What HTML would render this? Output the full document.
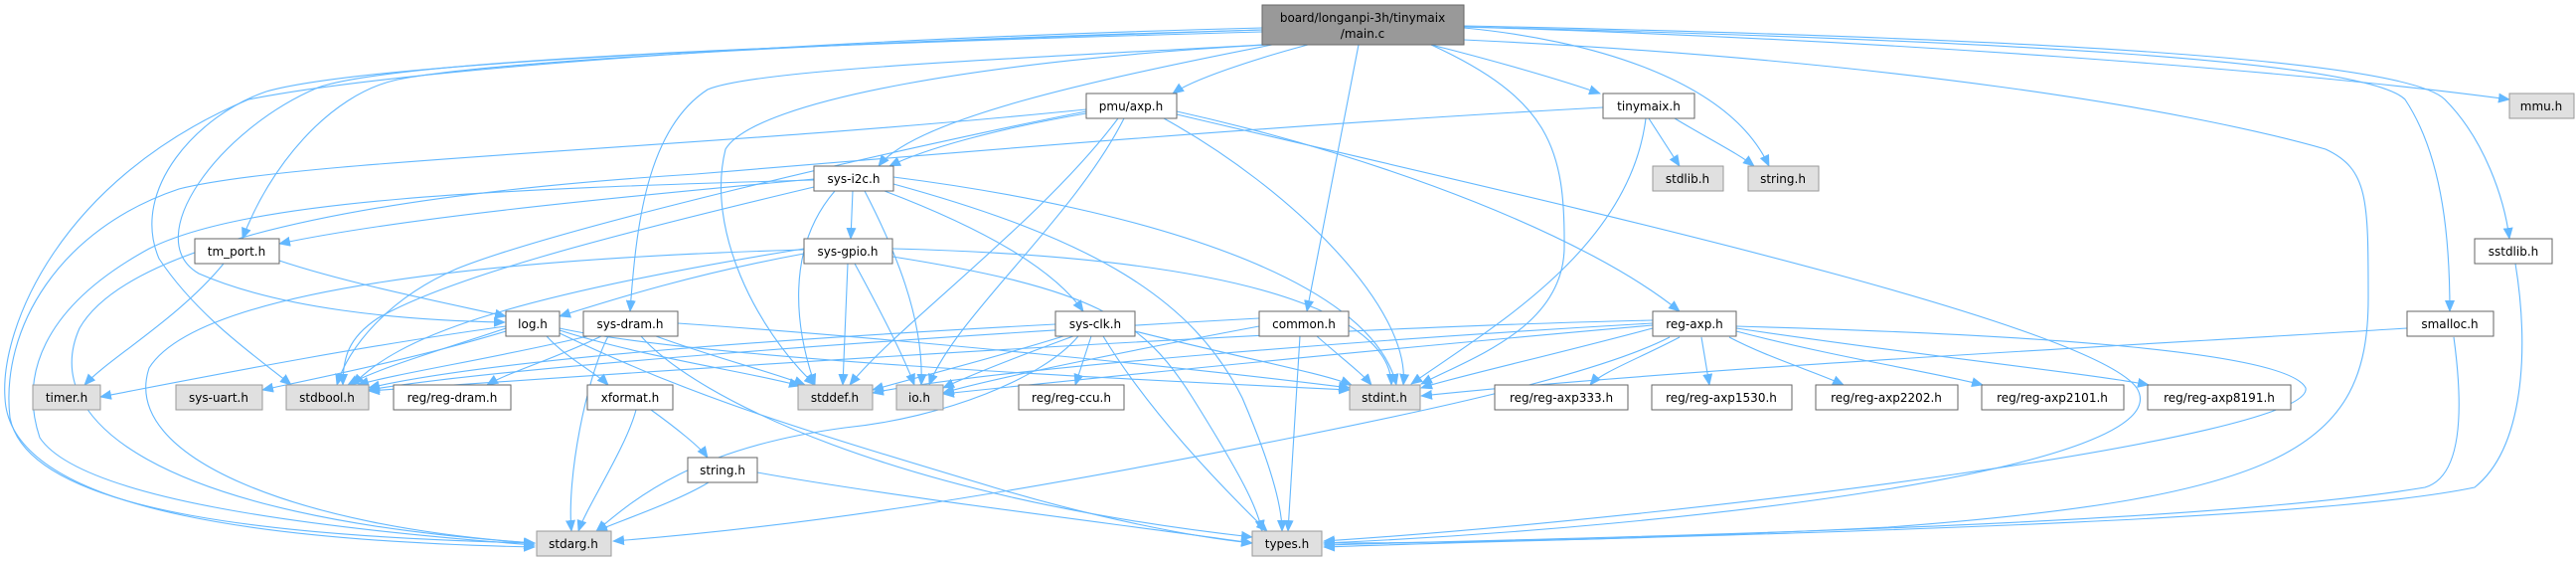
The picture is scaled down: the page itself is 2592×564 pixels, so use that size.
<!DOCTYPE html>
<html><head><meta charset="utf-8"><style>
html,body{margin:0;padding:0;background:#fff;}
svg{display:block;}
text{font-family:"DejaVu Sans","Liberation Sans",sans-serif;font-size:12px;fill:#000;}
</style></head><body>
<svg width="2592" height="564" viewBox="0 0 2592 564" xmlns="http://www.w3.org/2000/svg">
<defs><marker id="a" markerWidth="12" markerHeight="10" refX="11" refY="5" orient="auto" markerUnits="userSpaceOnUse"><path d="M0,0 L12,5 L0,10 z" fill="#63b8ff"/></marker></defs>
<g fill="none" stroke="#63b8ff" stroke-width="1.1" marker-end="url(#a)">
<path d="M1316,45 C1260,60 1200,80 1180,94"/>
<path d="M1440,45 C1500,60 1570,80 1610,94"/>
<path d="M1280,45 C1100,80 920,120 884,167"/>
<path d="M1367,45 L1315,313"/>
<path d="M1440,45 C1560,100 1575,150 1574,250 C1572,330 1480,360 1430,386"/>
<path d="M1473,28 C1600,40 1740,80 1780,167"/>
<path d="M1473,27 C1900,40 2300,70 2525,100"/>
<path d="M1473,27 C2000,40 2380,60 2420,100 C2460,160 2465,250 2465,313"/>
<path d="M1473,26 C2050,38 2420,60 2460,100 C2500,140 2520,200 2525,240"/>
<path d="M1473,40 C1900,60 2200,110 2340,150 C2383,170 2383,200 2383,300 C2383,450 2300,500 1900,530 C1600,545 1400,546 1332,546"/>
<path d="M1270,45 C1000,60 760,70 712,90 C650,130 640,230 634,313"/>
<path d="M1275,45 C1000,60 760,100 730,150 C710,230 760,330 820,387"/>
<path d="M1270,30 C900,40 500,60 400,80 C330,95 270,170 244,240"/>
<path d="M1270,32 C800,45 400,60 320,88 C220,130 140,240 200,275 C280,310 400,322 508,324"/>
<path d="M1270,30 C900,42 380,60 268,92 C200,115 130,190 160,260 C200,320 260,360 293,387"/>
<path d="M1270,28 C800,40 400,70 250,100 C60,180 0,330 5,400 C10,520 300,545 538,550"/>
<path d="M1093,114 C1000,130 930,150 895,167"/>
<path d="M1093,112 C900,150 560,230 460,270 C390,300 350,350 339,387"/>
<path d="M1125,119 C1050,220 900,330 855,387"/>
<path d="M1131,119 C1080,220 960,320 935,387"/>
<path d="M1171,119 C1300,190 1420,310 1412,387"/>
<path d="M1184,112 C1400,160 1600,240 1690,313"/>
<path d="M1184,115 C1500,190 2100,320 2150,390 C2200,470 1700,530 1332,546"/>
<path d="M1093,110 C700,150 300,160 180,190 C60,230 0,330 10,420 C30,520 300,540 538,546"/>
<path d="M1659,119 L1690,167"/>
<path d="M1685,119 C1720,140 1750,155 1765,167"/>
<path d="M1656,119 C1640,250 1500,330 1420,386"/>
<path d="M1613,108 C1300,125 1000,150 700,175 C300,200 120,260 80,330 C40,420 150,520 538,546"/>
<path d="M819,181 C500,190 250,200 150,250 C40,310 20,380 40,440 C80,500 300,530 538,548"/>
<path d="M819,180 C600,200 400,220 281,245"/>
<path d="M858,192 L856,240"/>
<path d="M840,192 C790,250 800,330 820,387"/>
<path d="M870,192 C900,250 930,320 927,387"/>
<path d="M890,192 C990,230 1060,270 1090,313"/>
<path d="M899,178 C1150,210 1380,280 1405,387"/>
<path d="M899,185 C1100,240 1200,300 1250,400 C1280,470 1290,510 1290,534"/>
<path d="M819,188 C600,240 450,280 380,320 C350,340 345,360 345,387"/>
<path d="M809,251 C500,260 200,290 150,370 C120,460 300,530 538,546"/>
<path d="M809,255 C700,275 620,300 563,318"/>
<path d="M809,250 C500,300 400,340 355,387"/>
<path d="M853,265 L848,387"/>
<path d="M860,265 C890,320 910,360 920,387"/>
<path d="M898,250 C1300,260 1400,330 1400,387"/>
<path d="M898,258 C1100,290 1150,320 1200,400 C1250,480 1265,510 1270,534"/>
<path d="M225,265 C180,320 110,360 85,387"/>
<path d="M281,262 C350,285 450,305 509,318"/>
<path d="M509,330 C450,350 380,370 350,387"/>
<path d="M509,328 C350,350 200,380 101,399"/>
<path d="M509,333 C420,360 320,380 264,392"/>
<path d="M550,338 C570,360 600,375 612,387"/>
<path d="M563,332 C650,360 760,375 805,388"/>
<path d="M563,330 C700,360 1100,380 1358,392"/>
<path d="M563,335 C700,400 800,430 1000,490 C1100,520 1200,540 1260,546"/>
<path d="M605,338 C560,360 510,375 490,387"/>
<path d="M600,336 C500,360 400,375 360,387"/>
<path d="M660,338 C720,360 780,375 810,387"/>
<path d="M682,325 C900,340 1200,370 1358,390"/>
<path d="M645,338 C700,400 900,500 1260,540"/>
<path d="M612,338 C590,380 570,480 575,534"/>
<path d="M640,412 C630,450 590,510 582,534"/>
<path d="M655,412 C680,430 705,450 712,460"/>
<path d="M713,485 C680,505 620,525 600,534"/>
<path d="M762,475 C900,500 1150,530 1260,546"/>
<path d="M1098,338 L1082,387"/>
<path d="M1080,338 C1020,360 970,380 949,390"/>
<path d="M1070,338 C1000,360 920,380 878,392"/>
<path d="M1142,333 C1250,360 1330,375 1360,387"/>
<path d="M1110,338 C1160,420 1240,500 1275,534"/>
<path d="M1062,326 C800,340 500,360 371,390"/>
<path d="M1085,338 C1050,380 950,420 850,430 C700,450 640,500 600,534"/>
<path d="M1325,338 C1350,360 1370,375 1380,387"/>
<path d="M1308,338 L1296,534"/>
<path d="M1267,320 C900,340 500,370 371,392"/>
<path d="M1267,328 C1150,350 1000,380 949,395"/>
<path d="M1663,330 C1550,360 1460,380 1430,390"/>
<path d="M1663,327 C1400,350 1100,380 949,396"/>
<path d="M1663,325 C1400,340 1000,370 878,395"/>
<path d="M1663,322 C1300,330 700,370 371,393"/>
<path d="M1690,339 C1650,360 1610,375 1600,387"/>
<path d="M1712,339 L1720,387"/>
<path d="M1740,339 C1780,360 1830,375 1855,387"/>
<path d="M1747,333 C1850,360 1950,375 1995,387"/>
<path d="M1747,330 C1950,360 2100,375 2162,387"/>
<path d="M1747,328 C2000,335 2300,350 2320,390 C2330,440 1700,520 1332,544"/>
<path d="M1680,339 C1600,380 1400,420 1300,440 C1000,500 800,530 617,544"/>
<path d="M2422,330 C2100,350 1700,370 1430,398"/>
<path d="M2469,339 C2480,420 2475,480 2440,490 C2200,530 1600,540 1332,548"/>
<path d="M2531,265 C2545,350 2540,450 2490,490 C2300,530 1600,540 1332,550"/>
</g>
<g>
<rect x="1270" y="5" width="203" height="40" fill="#999" stroke="#666"/>
<text x="1371" y="22" text-anchor="middle">board/longanpi-3h/tinymaix</text>
<text x="1371" y="38" text-anchor="middle">/main.c</text>
<rect x="1093" y="94" width="91" height="25" fill="#fff" stroke="#666"/><text x="1138" y="111" text-anchor="middle">pmu/axp.h</text>
<rect x="1613" y="94" width="92" height="25" fill="#fff" stroke="#666"/><text x="1659" y="111" text-anchor="middle">tinymaix.h</text>
<rect x="2525" y="94" width="65" height="25" fill="#e0e0e0" stroke="#999"/><text x="2557" y="111" text-anchor="middle">mmu.h</text>
<rect x="1663" y="167" width="71" height="25" fill="#e0e0e0" stroke="#999"/><text x="1698" y="184" text-anchor="middle">stdlib.h</text>
<rect x="1759" y="167" width="71" height="25" fill="#e0e0e0" stroke="#999"/><text x="1794" y="184" text-anchor="middle">string.h</text>
<rect x="819" y="167" width="80" height="25" fill="#fff" stroke="#666"/><text x="859" y="184" text-anchor="middle">sys-i2c.h</text>
<rect x="196" y="240" width="85" height="25" fill="#fff" stroke="#666"/><text x="238" y="257" text-anchor="middle">tm_port.h</text>
<rect x="809" y="240" width="89" height="25" fill="#fff" stroke="#666"/><text x="853" y="257" text-anchor="middle">sys-gpio.h</text>
<rect x="2490" y="240" width="78" height="25" fill="#fff" stroke="#666"/><text x="2529" y="257" text-anchor="middle">sstdlib.h</text>
<rect x="509" y="313" width="54" height="25" fill="#fff" stroke="#666"/><text x="536" y="330" text-anchor="middle">log.h</text>
<rect x="587" y="313" width="95" height="25" fill="#fff" stroke="#666"/><text x="634" y="330" text-anchor="middle">sys-dram.h</text>
<rect x="1062" y="313" width="80" height="25" fill="#fff" stroke="#666"/><text x="1102" y="330" text-anchor="middle">sys-clk.h</text>
<rect x="1267" y="313" width="90" height="25" fill="#fff" stroke="#666"/><text x="1312" y="330" text-anchor="middle">common.h</text>
<rect x="1663" y="313" width="84" height="25" fill="#fff" stroke="#666"/><text x="1705" y="330" text-anchor="middle">reg-axp.h</text>
<rect x="2422" y="313" width="87" height="25" fill="#fff" stroke="#666"/><text x="2465" y="330" text-anchor="middle">smalloc.h</text>
<rect x="33" y="387" width="68" height="25" fill="#e0e0e0" stroke="#999"/><text x="67" y="404" text-anchor="middle">timer.h</text>
<rect x="177" y="387" width="87" height="25" fill="#e0e0e0" stroke="#999"/><text x="220" y="404" text-anchor="middle">sys-uart.h</text>
<rect x="288" y="387" width="83" height="25" fill="#e0e0e0" stroke="#999"/><text x="329" y="404" text-anchor="middle">stdbool.h</text>
<rect x="396" y="387" width="118" height="25" fill="#fff" stroke="#666"/><text x="455" y="404" text-anchor="middle">reg/reg-dram.h</text>
<rect x="591" y="387" width="86" height="25" fill="#fff" stroke="#666"/><text x="634" y="404" text-anchor="middle">xformat.h</text>
<rect x="803" y="387" width="75" height="25" fill="#e0e0e0" stroke="#999"/><text x="840" y="404" text-anchor="middle">stddef.h</text>
<rect x="902" y="387" width="47" height="25" fill="#e0e0e0" stroke="#999"/><text x="925" y="404" text-anchor="middle">io.h</text>
<rect x="1025" y="387" width="106" height="25" fill="#fff" stroke="#666"/><text x="1078" y="404" text-anchor="middle">reg/reg-ccu.h</text>
<rect x="1358" y="387" width="71" height="25" fill="#e0e0e0" stroke="#999"/><text x="1393" y="404" text-anchor="middle">stdint.h</text>
<rect x="1504" y="387" width="134" height="25" fill="#fff" stroke="#666"/><text x="1571" y="404" text-anchor="middle">reg/reg-axp333.h</text>
<rect x="1662" y="387" width="141" height="25" fill="#fff" stroke="#666"/><text x="1732" y="404" text-anchor="middle">reg/reg-axp1530.h</text>
<rect x="1827" y="387" width="143" height="25" fill="#fff" stroke="#666"/><text x="1898" y="404" text-anchor="middle">reg/reg-axp2202.h</text>
<rect x="1994" y="387" width="143" height="25" fill="#fff" stroke="#666"/><text x="2065" y="404" text-anchor="middle">reg/reg-axp2101.h</text>
<rect x="2161" y="387" width="144" height="25" fill="#fff" stroke="#666"/><text x="2233" y="404" text-anchor="middle">reg/reg-axp8191.h</text>
<rect x="692" y="460" width="70" height="25" fill="#fff" stroke="#666"/><text x="727" y="477" text-anchor="middle">string.h</text>
<rect x="540" y="534" width="75" height="25" fill="#e0e0e0" stroke="#999"/><text x="577" y="551" text-anchor="middle">stdarg.h</text>
<rect x="1260" y="534" width="70" height="25" fill="#e0e0e0" stroke="#999"/><text x="1295" y="551" text-anchor="middle">types.h</text>
</g>
</svg>
</body></html>
